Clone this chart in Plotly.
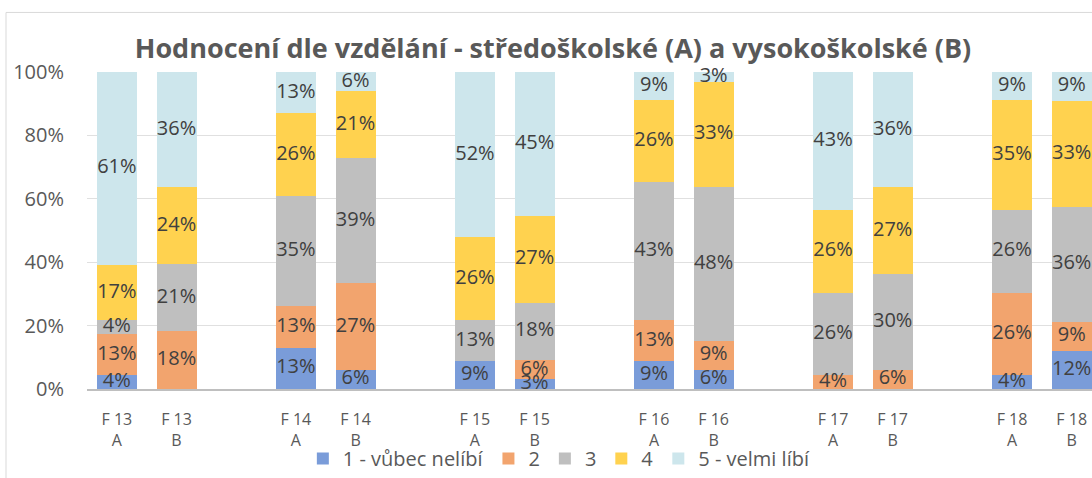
import plotly.graph_objects as go

# ---- data (percent of respondents) ----
categories = ["F 13<br>A", "F 13<br>B", "F 14<br>A", "F 14<br>B", "F 15<br>A", "F 15<br>B",
              "F 16<br>A", "F 16<br>B", "F 17<br>A", "F 17<br>B", "F 18<br>A", "F 18<br>B"]
series_names = ["1 - vůbec nelíbí", "2", "3", "4", "5 - velmi líbí"]
s1 = [4.35, 0, 13.04, 6.06, 8.70, 3.03, 8.70, 6.06, 0, 0, 4.35, 12.12]
s2 = [13.04, 18.18, 13.04, 27.27, 0, 6.06, 13.04, 9.09, 4.35, 6.06, 26.09, 9.09]
s3 = [4.35, 21.21, 34.78, 39.39, 13.04, 18.18, 43.48, 48.48, 26.09, 30.30, 26.09, 36.36]
s4 = [17.39, 24.24, 26.09, 21.21, 26.09, 27.27, 26.09, 33.33, 26.09, 27.27, 34.78, 33.33]
s5 = [60.87, 36.36, 13.04, 6.06, 52.17, 45.45, 8.70, 3.03, 43.48, 36.36, 8.70, 9.09]
y_ticks = [0, 20, 40, 60, 80, 100]
y_tick_labels = ["0%", "20%", "40%", "60%", "80%", "100%"]
title_text = "Hodnocení dle vzdělání - středoškolské (A) a vysokoškolské (B)"

colors = ["#7A9CD9", "#F2A46E", "#BFBFBF", "#FFD24F", "#CDE6EC"]
series = [s1, s2, s3, s4, s5]

# category order with an empty spacer slot after every A/B pair
cat_order = []
for i, c in enumerate(categories):
    cat_order.append(c)
    if i % 2 == 1:
        cat_order.append(" " * (i // 2 + 1))

FONT = "Open Sans"
fig = go.Figure()
for name, vals, col in zip(series_names, series, colors):
    fig.add_trace(go.Bar(
        name=name, x=categories, y=[v if v > 0 else None for v in vals],
        marker=dict(color=col, line=dict(width=0)), hoverinfo="skip",
    ))

# data labels centred in each stacked segment
base = [0.0] * len(categories)
lx, ly, lt = [], [], []
for vals in series:
    for i, v in enumerate(vals):
        if v > 0:
            lx.append(categories[i])
            ly.append(base[i] + v / 2)
            lt.append(f"{round(v)}%")
        base[i] += v
fig.add_trace(go.Scatter(
    x=lx, y=ly, text=lt, mode="text", textposition="middle center",
    textfont=dict(family=FONT, size=20, color="#404040"),
    cliponaxis=False, showlegend=False, hoverinfo="skip",
))

fig.update_layout(
    width=1092, height=478, autosize=False,
    barmode="stack", bargap=0.33,
    paper_bgcolor="white", plot_bgcolor="white",
    margin=dict(l=87, r=0, t=72, b=84, pad=0),
    font=dict(family=FONT, color="#595959"),
    title=dict(text=f"<b>{title_text}</b>", x=(553 - 87) / 1005, xref="paper", xanchor="center",
               y=1 - 49 / 478, yref="container", yanchor="middle",
               font=dict(family=FONT, size=27, color="#595959")),
    legend=dict(orientation="h", x=0.47, xanchor="center", y=(394 - 465) / 322, yanchor="middle",
                traceorder="normal", font=dict(family=FONT, size=20, color="#595959"),
                bgcolor="rgba(0,0,0,0)"),
    xaxis=dict(type="category", categoryorder="array", categoryarray=cat_order,
               range=[-0.5, 16.34], showgrid=False, zeroline=False,
               showline=True, linecolor="#BFBFBF", linewidth=2,
               ticks="", tickfont=dict(family=FONT, size=16, color="#595959"),
               ticklabelstandoff=15, fixedrange=True),
    yaxis=dict(range=[0, 100], tickmode="array", tickvals=y_ticks, ticktext=y_tick_labels,
               showgrid=True, gridcolor="#E0E0E0", gridwidth=1, zeroline=False,
               showline=False, ticks="", ticklabelstandoff=22,
               tickfont=dict(family=FONT, size=20, color="#595959"), fixedrange=True),
    shapes=[dict(type="rect", xref="paper", yref="paper",
                 x0=(6 - 87) / 1005, x1=1.2, y0=-0.5, y1=(394 - 11.5) / 322,
                 line=dict(color="#D9D9D9", width=1), fillcolor="rgba(0,0,0,0)",
                 layer="below")],
)

fig.write_html("out.html", config={"displayModeBar": False},
               post_script="document.body.style.margin='0px';")
